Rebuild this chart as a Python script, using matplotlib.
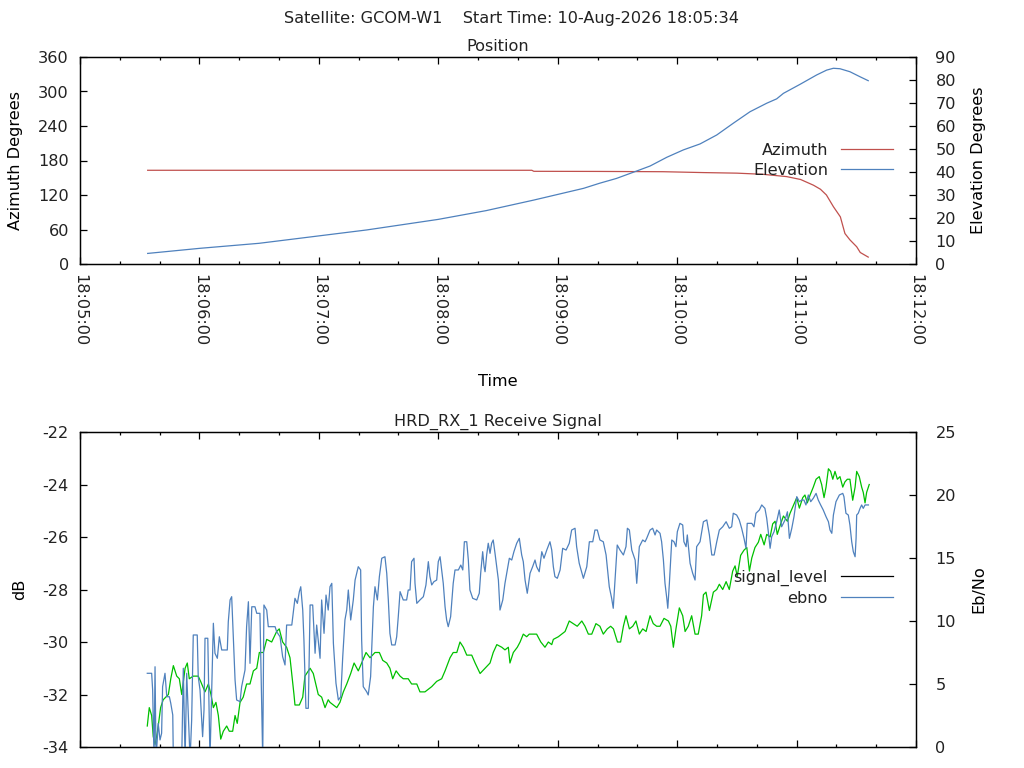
import matplotlib
matplotlib.use("Agg")
import matplotlib.pyplot as plt
from matplotlib.lines import Line2D
from matplotlib.ticker import MultipleLocator, FuncFormatter

# seconds after 18:05:00
az_time = [34, 120, 227, 228, 260, 293, 313, 330, 343, 355, 362, 368.5, 372, 375, 378.5, 382, 384.3, 386.8, 390.2, 392, 396]
azimuth = [163.0, 163.0, 163.0, 161.2, 161.0, 160.5, 159, 158, 156, 152, 147, 137, 130, 120, 99.7, 82, 53, 42, 30, 20, 12]

el_time = [34, 60, 90, 110.5, 144, 180, 204, 228, 253, 261, 269.5, 280.2, 286.4, 294.8, 303.1, 311.5, 319.9, 328.2,
           336.6, 345, 350, 353.4, 361.7, 370.1, 375.1, 378.5, 381.8, 386.8, 391.9, 396]
elevation = [4.6, 6.8, 9.0, 11.2, 14.8, 19.4, 23.2, 27.8, 32.9, 35.1, 37.2, 40.6, 42.6, 46.4, 49.6, 52.2, 56.1, 61.2,
             66.2, 69.9, 71.8, 74.2, 78.1, 82.2, 84.3, 85.1, 84.9, 83.6, 81.4, 79.7]

sig_time = [33.8, 34.8, 36.0, 36.8, 37.7, 38.5, 39.3, 40.5, 41.8, 44.4, 45.6, 46.9, 48.6, 49.9, 51.1, 52.8, 53.9, 54.9,
            56.9, 59.4, 60.6, 62.8, 64.5, 65.8, 67.0, 68.3, 69.5, 70.7, 72.0, 73.7, 75.0, 76.7, 77.9, 79.0, 80.4, 82.0,
            83.7, 85.4, 87.1, 88.8, 90.1, 92.1, 93.8, 96.3, 98.8, 100.1, 101.8, 103.8, 105.5, 107.5, 108.0, 110.2,
            111.9, 113.0, 115.6, 117.2, 119.7, 121.4, 123.1, 124.7, 125.6, 127.3, 129.0, 130.6, 132.3, 134.0, 136.0,
            137.7, 139.8, 141.5, 143.7, 145.7, 148.2, 150.4, 152.1, 154.1, 155.7, 157.1, 158.8, 160.8, 162.4, 164.9,
            166.6, 169.2, 170.8, 173.3, 175.0, 176.7, 179.2, 181.7, 183.4, 185.9, 187.5, 189.3, 190.9, 192.6, 194.3,
            196.8, 198.5, 201.0, 203.5, 206.0, 207.6, 209.4, 211.9, 213.5, 215.2, 216.0, 217.7, 219.7, 221.1, 222.7,
            224.4, 225.7, 226.9, 229.4, 231.5, 233.6, 235.3, 237.0, 237.8, 240.3, 242.0, 243.7, 245.8, 247.8, 249.8,
            252.1, 253.7, 255.4, 257.1, 259.2, 261.2, 262.9, 264.9, 266.6, 268.0, 270.0, 271.6, 273.0, 274.3, 276.0,
            277.7, 279.3, 281.0, 282.7, 284.4, 286.4, 288.0, 289.7, 291.4, 293.4, 295.6, 296.8, 298.1, 299.4, 301.1,
            302.8, 304.0, 305.6, 307.3, 309.0, 310.6, 312.3, 313.2, 314.5, 316.2, 318.2, 319.9, 321.2, 322.9, 324.6,
            326.2, 327.9, 329.1, 330.2, 331.9, 333.6, 335.0, 336.3, 337.5, 339.1, 340.8, 342.0, 343.7, 345.0, 346.7,
            348.0, 349.2, 350.3, 352.0, 353.4, 355.4, 356.7, 358.4, 360.1, 361.4, 363.1, 364.2, 365.4, 366.8, 368.4,
            369.8, 371.4, 372.6, 373.8, 374.8, 376.0, 377.1, 378.2, 379.3, 380.5, 381.8, 383.2, 384.3, 385.5, 386.8,
            388.2, 389.4, 390.2, 391.5, 392.7, 393.5, 394.4, 395.2, 396.5]
signal_db = [-33.2, -32.5, -32.8, -33.6, -33.9, -33.6, -33.2, -32.5, -32.2, -32.0, -31.4, -30.9, -31.3, -31.4, -32.0,
             -31.0, -30.8, -31.4, -31.3, -31.3, -31.5, -31.9, -31.6, -32.0, -32.5, -32.3, -32.8, -33.7, -33.4, -33.2,
             -33.4, -33.4, -32.8, -33.1, -32.3, -32.1, -31.6, -31.6, -31.1, -31.0, -30.4, -30.4, -29.9, -30.0, -29.6,
             -29.5, -30.0, -30.2, -30.6, -32.0, -32.4, -32.4, -32.1, -31.3, -31.0, -31.2, -32.0, -32.1, -32.5, -32.2,
             -32.3, -32.4, -32.5, -32.3, -31.9, -31.6, -31.2, -30.8, -31.1, -30.8, -30.4, -30.6, -30.4, -30.4, -30.7,
             -30.8, -31.0, -31.4, -31.1, -31.3, -31.4, -31.4, -31.6, -31.6, -31.9, -31.9, -31.8, -31.7, -31.5, -31.4,
             -31.1, -30.6, -30.4, -30.4, -30.0, -30.2, -30.5, -30.5, -30.8, -31.2, -31.0, -30.8, -30.4, -30.1, -30.2,
             -30.3, -30.2, -30.8, -30.4, -30.2, -30.0, -29.7, -29.8, -29.7, -29.7, -29.7, -30.0, -30.2, -30.0, -30.1,
             -29.9, -29.8, -29.7, -29.6, -29.2, -29.3, -29.4, -29.2, -29.4, -29.7, -29.7, -29.3, -29.4, -29.7, -29.5,
             -29.4, -29.5, -30.0, -30.0, -29.4, -29.0, -29.5, -29.4, -29.2, -29.7, -29.5, -29.6, -29.0, -29.3, -29.4,
             -29.4, -29.1, -29.2, -29.4, -30.2, -29.5, -28.7, -29.0, -29.6, -29.4, -29.0, -29.7, -29.7, -29.0, -28.2,
             -28.1, -28.8, -28.1, -28.0, -27.8, -28.0, -27.7, -28.0, -27.3, -27.1, -27.5, -26.7, -26.5, -26.4, -27.3,
             -26.8, -26.4, -26.2, -25.9, -26.3, -25.9, -26.0, -25.5, -25.4, -25.9, -25.5, -25.2, -25.4, -25.1, -24.8,
             -24.5, -24.9, -24.5, -24.4, -24.7, -24.4, -24.1, -23.8, -23.7, -24.0, -24.5, -24.1, -23.4, -23.5, -23.8,
             -23.5, -23.8, -23.7, -24.1, -23.9, -23.8, -23.8, -24.6, -24.1, -23.5, -23.7, -24.1, -24.3, -24.7, -24.3,
             -24.0]

ebno_time = [33.8, 36.0, 36.5, 37.2, 37.7, 38.2, 39.3, 40.2, 41.0, 41.5, 42.7, 43.6, 44.9, 45.6, 46.6, 46.9, 51.1, 51.9,
             52.8, 53.6, 55.3, 56.1, 56.9, 58.9, 59.4, 60.3, 61.6, 62.3, 62.8, 64.2, 65.3, 66.2, 67.0, 67.8, 69.0, 70.0,
             71.2, 74.0, 74.5, 75.4, 76.2, 77.0, 77.9, 78.7, 80.4, 81.2, 82.9, 83.7, 84.6, 85.4, 86.3, 87.9, 88.8, 90.4,
             91.8, 92.4, 93.8, 94.6, 98.0, 98.8, 100.5, 101.8, 103.0, 103.8, 106.4, 108.0, 109.2, 110.2, 110.9, 111.9,
             112.5, 113.5, 114.7, 115.6, 116.9, 118.1, 118.9, 120.6, 121.4, 122.6, 123.6, 124.7, 125.6, 126.5, 127.3,
             128.6, 129.8, 131.0, 132.0, 133.1, 134.0, 134.8, 136.0, 137.3, 138.2, 139.8, 141.0, 141.5, 142.3, 144.0,
             144.8, 146.0, 147.4, 148.2, 149.4, 150.4, 151.6, 153.2, 154.1, 154.9, 155.7, 156.6, 158.3, 159.1, 159.9,
             160.8, 162.4, 164.1, 164.9, 165.8, 166.6, 167.8, 168.3, 169.2, 170.8, 172.5, 173.8, 175.0, 175.8, 176.7,
             177.8, 179.2, 180.0, 180.9, 181.7, 182.5, 183.4, 184.2, 185.0, 186.2, 187.5, 188.4, 190.1, 191.3, 192.3,
             193.1, 194.3, 195.1, 195.9, 197.3, 199.3, 200.6, 201.3, 202.3, 203.0, 203.5, 204.3, 205.1, 206.0, 206.8,
             207.6, 208.5, 210.2, 211.0, 212.4, 213.5, 214.7, 215.7, 216.9, 218.0, 219.4, 220.7, 221.9, 222.7, 223.6,
             224.7, 226.1, 227.4, 228.6, 229.4, 230.7, 232.0, 233.1, 234.5, 236.1, 237.0, 237.8, 238.6, 239.8, 241.2,
             242.5, 244.2, 245.8, 247.0, 248.7, 249.5, 250.8, 252.9, 254.6, 255.9, 257.6, 258.7, 259.9, 261.2, 262.9,
             264.3, 265.9, 267.1, 267.9, 268.8, 269.9, 271.3, 273.0, 274.3, 275.0, 276.0, 277.2, 278.9, 279.7, 281.0,
             282.7, 283.9, 284.7, 286.4, 287.7, 288.9, 289.7, 291.4, 292.2, 293.1, 293.9, 294.8, 295.3, 296.1, 297.3,
             298.4, 299.4, 300.1, 301.4, 302.8, 303.4, 304.5, 305.1, 306.5, 307.8, 309.0, 309.8, 311.5, 313.2, 314.9,
             316.2, 317.4, 318.6, 319.9, 321.2, 322.9, 324.6, 326.2, 327.4, 328.2, 329.9, 331.2, 332.4, 333.6, 334.6,
             335.2, 337.5, 338.6, 339.6, 341.3, 342.5, 344.1, 345.0, 345.8, 346.7, 347.5, 348.7, 350.0, 351.3, 352.5,
             354.2, 355.4, 356.4, 357.6, 358.7, 360.1, 361.4, 362.6, 363.7, 364.7, 365.9, 367.1, 368.4, 369.8, 370.9,
             372.1, 373.4, 374.8, 376.0, 376.8, 377.7, 378.5, 379.8, 381.5, 383.2, 383.8, 384.8, 386.0, 386.8, 387.7,
             388.5, 389.4, 389.9, 390.2, 391.0, 391.9, 392.7, 393.5, 394.4, 396.1]
ebno = [5.85, 5.85, 4.52, -1, 6.37, -1, 1.88, 0.56, 1.09, 4.79, 5.85, 3.99, 3.99, 3.47, 2.54, -1, -1, 6.25, -1, 5.85,
        -1, 2.14, 8.89, 8.89, 5.58, 4.52, 0.82, 2.94, 8.63, 8.63, -1, 4.79, 9.82, 7.44, 7.04, 8.75, 7.70, 7.70, 9.94,
        11.67, 11.93, 8.75, 5.32, 3.73, 3.60, 4.79, 6.11, 9.55, 11.53, 6.64, 11.13, 11.13, 10.61, 10.61, -1, 11.27,
        10.87, 9.55, 9.55, 9.15, 8.75, 7.17, 6.51, 9.68, 9.68, 11.80, 11.40, 12.33, 12.72, 10.87, 8.49, 3.07, 3.07,
        11.27, 11.27, 7.44, 9.68, 7.04, 11.67, 9.02, 12.06, 10.87, 12.72, 12.99, 8.23, 5.06, 3.73, 3.99, 7.17, 10.08,
        10.87, 12.46, 10.08, 11.67, 13.25, 14.31, 14.05, 8.49, 4.79, 4.39, 4.13, 5.58, 11.13, 12.72, 11.67, 13.52,
        14.98, 15.10, 13.79, 11.67, 9.02, 8.10, 8.10, 8.75, 10.34, 12.33, 11.67, 11.67, 12.46, 12.46, 14.71, 14.98,
        12.99, 11.40, 11.67, 11.93, 12.86, 14.71, 13.52, 12.86, 13.12, 13.25, 14.71, 15.10, 14.05, 12.99, 11.13, 10.08,
        9.55, 10.34, 12.99, 14.05, 14.05, 14.44, 14.05, 16.29, 16.29, 14.84, 12.46, 11.80, 11.67, 12.20, 13.79, 15.50,
        14.31, 13.91, 15.24, 16.17, 15.37, 16.17, 16.43, 15.37, 13.25, 10.87, 11.67, 12.99, 14.05, 14.98, 14.84, 15.50,
        16.17, 16.56, 15.24, 14.71, 13.25, 12.20, 13.79, 14.31, 14.84, 14.31, 13.91, 15.50, 14.98, 15.63, 16.29, 15.63,
        14.31, 13.52, 13.39, 14.05, 15.77, 15.63, 16.17, 17.22, 17.36, 15.90, 14.58, 13.39, 14.31, 16.29, 16.29, 17.22,
        17.22, 16.43, 16.29, 15.24, 12.72, 11.80, 11.01, 13.25, 16.03, 15.63, 15.24, 15.90, 17.36, 17.22, 15.63, 14.84,
        12.99, 15.90, 16.43, 16.29, 16.56, 17.22, 17.36, 16.83, 17.22, 16.96, 16.29, 14.84, 12.99, 11.80, 11.01, 12.99,
        16.43, 16.29, 15.90, 17.09, 17.75, 17.62, 16.29, 15.90, 16.83, 14.58, 13.79, 13.25, 15.90, 16.29, 17.88, 18.02,
        16.83, 15.24, 15.24, 16.29, 17.22, 17.48, 17.88, 17.36, 17.48, 18.55, 18.41, 18.02, 17.36, 16.56, 15.77, 17.75,
        17.75, 17.48, 18.55, 18.81, 19.21, 18.94, 18.15, 17.09, 15.77, 16.69, 17.09, 17.88, 18.81, 17.48, 18.02, 18.67,
        16.56, 17.36, 18.28, 19.87, 19.47, 19.60, 19.60, 19.21, 20.00, 19.47, 19.74, 20.13, 19.60, 19.21, 18.81, 18.28,
        17.88, 17.22, 16.96, 18.41, 19.47, 20.00, 20.13, 19.87, 18.55, 18.41, 17.62, 16.29, 15.50, 15.10, 16.56, 18.41,
        18.55, 18.94, 19.21, 18.94, 19.21, 19.21]

RED = "#c0504d"
BLUE = "#4f81bd"
GREEN = "#00c000"
FS = 11.6

plt.rcParams["font.family"] = ["DejaVu Sans"]
plt.rcParams["font.size"] = FS
plt.rcParams["axes.linewidth"] = 0.9
plt.rcParams["axes.unicode_minus"] = False
plt.rcParams["text.color"] = "#222222"
plt.rcParams["xtick.labelcolor"] = "#222222"
plt.rcParams["ytick.labelcolor"] = "#222222"


def time_label(v, pos):
    s = int(round(v)) + 5 * 60
    return f"18:{s // 60:02d}:{s % 60:02d}"


def style_axes(ax, ax2, show_labels=True):
    ax.set_xlim(0, 420)
    ax.xaxis.set_major_locator(MultipleLocator(60))
    ax.xaxis.set_minor_locator(MultipleLocator(20))
    ax.xaxis.set_major_formatter(FuncFormatter(time_label))
    ax.tick_params(axis="x", which="both", direction="in", top=True, bottom=True, labelbottom=show_labels)
    ax.tick_params(axis="x", which="major", length=5, width=0.9, labelrotation=270, pad=7)
    ax.tick_params(axis="x", which="minor", length=2.5, width=0.9)
    ax.tick_params(axis="y", direction="in", length=5, width=0.9, pad=8, right=False)
    ax2.tick_params(axis="y", direction="in", length=5, width=0.9, pad=14)


fig = plt.figure(figsize=(10.24, 7.68), dpi=100)
fig.text(0.5, 1 - 18 / 768, "Satellite: GCOM-W1    Start Time: 10-Aug-2026 18:05:34",
         ha="center", va="center", fontsize=FS)

leg_kw = dict(loc="center right", frameon=False, markerfirst=False, handlelength=3.25,
              handletextpad=0.8, labelspacing=0.3, fontsize=FS)

# position panel
ax = fig.add_axes([80 / 1024, 1 - 264 / 768, 836 / 1024, 207 / 768])
ax2 = ax.twinx()
ax.plot(az_time, azimuth, color=RED, lw=0.9, label="Azimuth")
ax2.plot(el_time, elevation, color=BLUE, lw=0.9, label="Elevation")
ax.set_ylim(0, 360)
ax.yaxis.set_major_locator(MultipleLocator(60))
ax2.set_ylim(0, 90)
ax2.yaxis.set_major_locator(MultipleLocator(10))
style_axes(ax, ax2)
ax.set_title("Position", fontsize=FS, pad=4.5)
ax.set_xlabel("Time", labelpad=20)
ax.set_ylabel("Azimuth Degrees", labelpad=11)
ax2.set_ylabel("Elevation Degrees", labelpad=11)
h1, l1 = ax.get_legend_handles_labels()
h2, l2 = ax2.get_legend_handles_labels()
ax2.legend(h1 + h2, l1 + l2, bbox_to_anchor=(0.99, 0.5), **leg_kw)

# receive signal panel
bx = fig.add_axes([80 / 1024, 1 - 747 / 768, 836 / 1024, 315 / 768])
bx2 = bx.twinx()
bx.plot(sig_time, signal_db, color=GREEN, lw=0.9)
bx2.plot(ebno_time, ebno, color=BLUE, lw=0.9)
bx.set_ylim(-34, -22)
bx.yaxis.set_major_locator(MultipleLocator(2))
bx2.set_ylim(0, 25)
bx2.yaxis.set_major_locator(MultipleLocator(5))
style_axes(bx, bx2, show_labels=False)
bx.set_title("HRD_RX_1 Receive Signal", fontsize=FS, pad=4.5)
bx.set_ylabel("dB", labelpad=11)
bx2.set_ylabel("Eb/No", labelpad=11)
handles = [Line2D([], [], color="black", lw=0.9), Line2D([], [], color=BLUE, lw=0.9)]
bx2.legend(handles, ["signal_level", "ebno"], bbox_to_anchor=(0.99, 0.505), **leg_kw)

fig.savefig("out.png", dpi=100)
